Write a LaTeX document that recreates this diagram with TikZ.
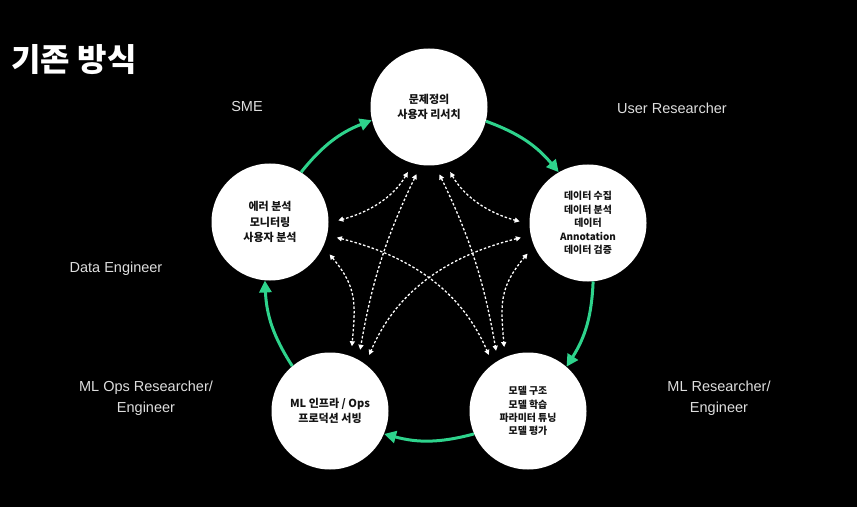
\documentclass[tikz,border=0pt]{standalone}
\usepackage{fontspec}
\setmainfont{Liberation Sans}
\newfontfamily\kr{Noto Sans CJK KR}
\usetikzlibrary{arrows.meta}
\definecolor{mint}{RGB}{46,211,140}
\definecolor{lbl}{RGB}{222,222,222}
\begin{document}
\begin{tikzpicture}[x=1pt,y=1pt,
  stage/.style={circle, fill=white, minimum size=117pt, inner sep=0pt, align=center,
    text={black!92}, font=\kr\bfseries\fontsize{11}{15.5}\selectfont},
  smalltext/.style={font=\kr\bfseries\fontsize{9.9}{13.4}\selectfont},
  role/.style={text=lbl, align=center, font=\fontsize{14.5}{21}\selectfont},
  flow/.style={mint, line width=3pt, -{Triangle[length=12pt,width=12pt]}, bend left=15},
  link/.style={white, line width=1.3pt, dash pattern=on 2.5pt off 2pt,
    {Triangle[length=5pt,width=5pt]}-{Triangle[length=5pt,width=5pt]},
    shorten >=10pt, shorten <=10pt},
]
\fill[black] (0,0) rectangle (857,507);
\useasboundingbox (0,0) rectangle (857,507);

\node[anchor=west, text=white, font=\kr\bfseries\fontsize{32}{38}\selectfont] (title) at (8,447) {기존 방식};

\node[stage] (T) at (429,400) {문제정의\\사용자 리서치};
\node[stage, smalltext] (R) at (588,284) {데이터 수집\\데이터 분석\\데이터\\Annotation\\데이터 검증};
\node[stage, smalltext] (BR) at (528,96) {모델 구조\\모델 학습\\파라미터 튜닝\\모델 평가};
\node[stage] (BL) at (330,96) {ML 인프라 / Ops\\프로덕션 서빙};
\node[stage] (L) at (270,285) {에러 분석\\모니터링\\사용자 분석};

\node[role] (sme) at (247,400) {SME};
\node[role] (ur) at (672,399) {User Researcher};
\node[role] (de) at (116,238) {Data Engineer};
\node[role] (mlops) at (146,108.5) {ML Ops Researcher/\\Engineer};
\node[role] (mlr) at (719,108.5) {ML Researcher/\\Engineer};

\draw[flow] (L.58) to (T.193);
\draw[flow] (T.-14) to (R.120);
\draw[flow] (R.275) to (BR.49);
\draw[flow] (BR.203) to (BL.-23);
\draw[flow] (BL.130) to (L.265);

\draw[link] (T.254) to[out=240,in=15] (L.-1);
\draw[link] (T.286) to[out=300,in=165] (R.181);
\draw[link] (T.262) to[bend right=8] (BL.61);
\draw[link] (T.276) to[bend left=8] (BR.121);
\draw[link] (L.-13) to[out=-14,in=113] (BR.127);
\draw[link] (R.192) to[out=194,in=67] (BL.53);
\draw[link] (L.-25) to[out=310,in=85,looseness=1.2] (BL.69);
\draw[link] (R.203) to[out=230,in=95,looseness=1.2] (BR.113);
\end{tikzpicture}
\end{document}
